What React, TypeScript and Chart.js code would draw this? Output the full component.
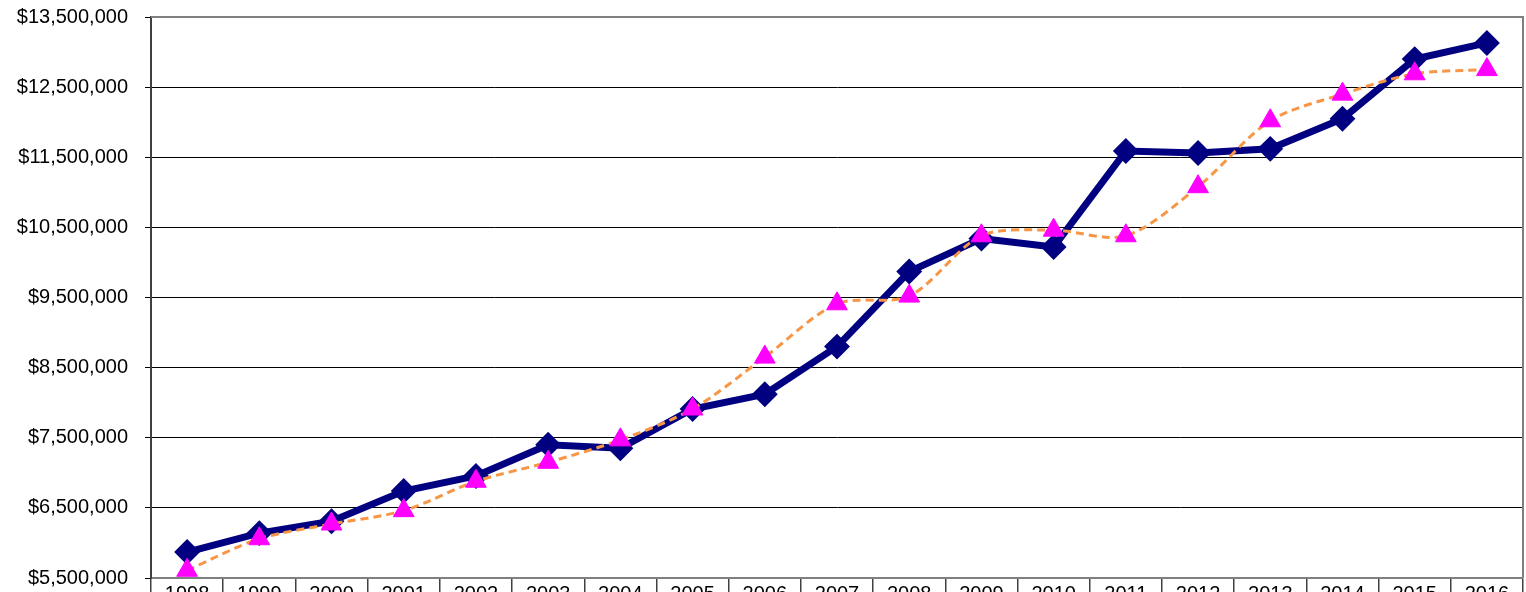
import React, { useEffect, useRef } from "react";
import { Chart, registerables } from "chart.js";

Chart.register(...registerables);

const years = ["1998","1999","2000","2001","2002","2003","2004","2005","2006","2007","2008","2009","2010","2011","2012","2013","2014","2015","2016"];
const actualValues = [5870000,6140000,6310000,6740000,6955000,7400000,7350000,7910000,8120000,8800000,9870000,10340000,10220000,11590000,11560000,11620000,12050000,12900000,13130000];
const trendValues = [5610000,6060000,6270000,6460000,6880000,7150000,7470000,7910000,8650000,9410000,9520000,10380000,10460000,10380000,11080000,12020000,12400000,12690000,12750000];
const yMin = 5500000;
const yMax = 13500000;
const yStep = 1000000;

const FONT = "'Liberation Sans', Arial, sans-serif";

const borderPlugin = {
  id: "plotBorder",
  afterDraw(chart: any) {
    const { ctx, chartArea } = chart;
    ctx.save();
    ctx.strokeStyle = "#808080";
    ctx.lineWidth = 2;
    ctx.beginPath();
    ctx.moveTo(chartArea.left, chartArea.top);
    ctx.lineTo(chartArea.right, chartArea.top);
    ctx.lineTo(chartArea.right, chartArea.bottom);
    ctx.stroke();
    ctx.restore();
  },
};

export default function App() {
  const ref = useRef<HTMLCanvasElement | null>(null);
  useEffect(() => {
    if (!ref.current) return;
    const chart = new Chart(ref.current, {
      type: "line",
      data: {
        labels: years,
        datasets: [
          {
            label: "Trend",
            data: trendValues,
            borderColor: "#F79646",
            borderWidth: 3,
            borderDash: [8, 5],
            tension: 0.3,
            pointStyle: "triangle",
            pointRadius: 12,
            pointBackgroundColor: "#FF00FF",
            pointBorderColor: "#FF00FF",
            pointBorderWidth: 1,
            fill: false,
          },
          {
            label: "Actual",
            data: actualValues,
            borderColor: "#000080",
            borderWidth: 7,
            tension: 0,
            pointStyle: "rectRot",
            pointRadius: 8,
            pointBackgroundColor: "#000080",
            pointBorderColor: "#000080",
            fill: false,
          },
        ],
      },
      options: {
        animation: false,
        responsive: false,
        maintainAspectRatio: false,
        layout: { autoPadding: false, padding: { top: 17, right: 3, left: 0, bottom: 0 } },
        plugins: { legend: { display: false }, tooltip: { enabled: false } },
        scales: {
          x: {
            offset: true,
            grid: {
              display: true,
              offset: true,
              drawOnChartArea: false,
              drawTicks: true,
              tickLength: 40,
              color: "#404040",
              lineWidth: 1.5,
            },
            border: { display: true, color: "#808080", width: 2 },
            ticks: {
              color: "#000",
              font: { family: FONT, size: 20 },
              padding: -36,
              maxRotation: 0,
              autoSkip: false,
            },
            afterFit(scale: any) {
              scale.height = 42;
              scale.paddingLeft = 0;
              scale.paddingRight = 0;
            },
          },
          y: {
            min: yMin,
            max: yMax,
            grid: {
              color: "#000",
              lineWidth: 1,
              tickLength: 6,
              drawTicks: true,
            },
            border: { display: true, color: "#404040", width: 2 },
            ticks: {
              stepSize: yStep,
              color: "#000",
              padding: 17,
              font: { family: FONT, size: 20 },
              callback: (v: any) => "$" + Number(v).toLocaleString("en-US"),
            },
            afterFit(scale: any) {
              scale.width = 151;
              scale.paddingTop = 0;
              scale.paddingBottom = 0;
            },
          },
        },
      },
      plugins: [borderPlugin],
    });
    return () => chart.destroy();
  }, []);
  return (
    <div style={{ position: "fixed", left: 0, top: 0, width: 1526, height: 592, overflow: "hidden", background: "#fff" }}>
      <canvas ref={ref} width={1526} height={620} style={{ width: 1526, height: 620, display: "block" }} />
    </div>
  );
}
